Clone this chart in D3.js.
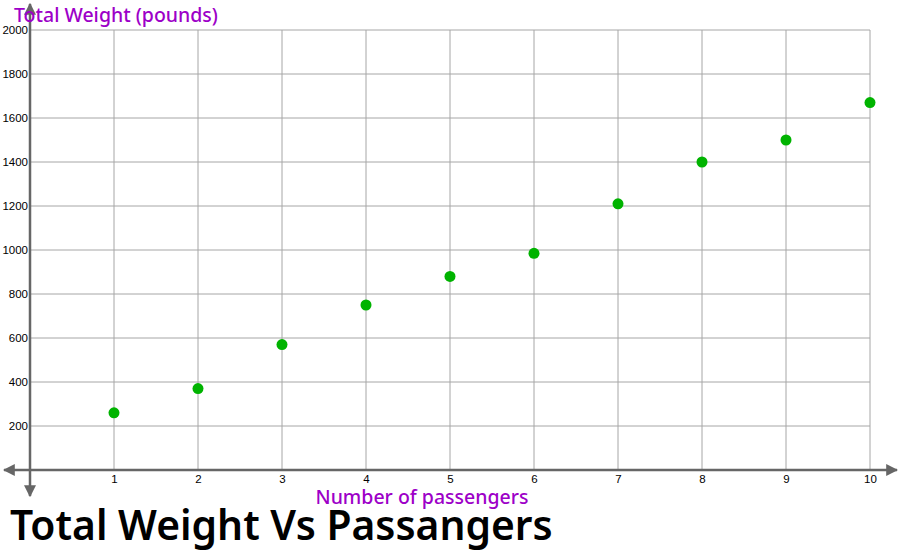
<!DOCTYPE html>
<html><head><meta charset="utf-8">
<script src="https://cdn.jsdelivr.net/npm/d3@7"></script>
<style>body{margin:0;background:#fff}svg{display:block}</style>
</head><body>
<svg id="c" width="900" height="555"></svg>
<script>
const passengers = [1,2,3,4,5,6,7,8,9,10];
const weights = [260,370,570,750,880,985,1210,1400,1500,1670];
const xTicks = [1,2,3,4,5,6,7,8,9,10];
const yTicks = [200,400,600,800,1000,1200,1400,1600,1800,2000];
const xTitle = "Number of passengers";
const yTitle = "Total Weight (pounds)";
const chartTitle = "Total Weight Vs Passangers";

const svg = d3.select("#c");
const x = d3.scaleLinear().domain([0,10]).range([30,870]);
const y = d3.scaleLinear().domain([0,2000]).range([470,30]);
const grid = "#a6a6a6", axisC = "#666";

// grid
svg.append("g").selectAll("line").data(xTicks).join("line")
  .attr("x1", d=>x(d)).attr("x2", d=>x(d)).attr("y1", y(2000)).attr("y2", y(0))
  .attr("stroke", grid).attr("stroke-width",1);
svg.append("g").selectAll("line").data(yTicks).join("line")
  .attr("x1", x(0)).attr("x2", x(10)).attr("y1", d=>y(d)).attr("y2", d=>y(d))
  .attr("stroke", grid).attr("stroke-width",1);

// axes with arrows
const defs = svg.append("defs");
defs.append("marker").attr("id","arr").attr("viewBox","0 0 10 10").attr("refX",9).attr("refY",5)
  .attr("markerWidth",12).attr("markerHeight",12).attr("orient","auto-start-reverse")
  .attr("markerUnits","userSpaceOnUse")
  .append("path").attr("d","M0,0 L10,5 L0,10 z").attr("fill",axisC);

svg.append("line").attr("x1",4).attr("x2",897).attr("y1",y(0)).attr("y2",y(0))
  .attr("stroke",axisC).attr("stroke-width",2.5)
  .attr("marker-start","url(#arr)").attr("marker-end","url(#arr)");
svg.append("line").attr("x1",x(0)).attr("x2",x(0)).attr("y1",4).attr("y2",496)
  .attr("stroke",axisC).attr("stroke-width",2.5)
  .attr("marker-start","url(#arr)").attr("marker-end","url(#arr)");

// tick labels via axis generators
const xAxis = d3.axisBottom(x).tickValues(xTicks).tickSize(0).tickPadding(5).tickFormat(d3.format("d"));
const gx = svg.append("g").attr("transform",`translate(0,${y(0)})`).call(xAxis);
gx.select(".domain").remove();
gx.selectAll("text").attr("font-family","Liberation Sans, Arial, sans-serif").attr("font-size",11.5).attr("fill","#000");

const yAxis = d3.axisLeft(y).tickValues(yTicks).tickSize(0).tickPadding(2).tickFormat(d3.format("d"));
const gy = svg.append("g").attr("transform",`translate(${x(0)},0)`).call(yAxis);
gy.select(".domain").remove();
gy.selectAll("text").attr("font-family","Liberation Sans, Arial, sans-serif").attr("font-size",11.5).attr("fill","#000");

// points
svg.append("g").selectAll("circle").data(passengers).join("circle")
  .attr("cx", d=>x(d)).attr("cy",(d,i)=>y(weights[i])).attr("r",5.5)
  .attr("fill","#00b300");

// titles
svg.append("text").attr("x",14).attr("y",22).text(yTitle)
  .attr("font-family","Noto Sans, sans-serif").attr("font-size",19.5).attr("font-weight",500).attr("fill","#9d00c8");
svg.append("text").attr("x",422).attr("y",504).attr("text-anchor","middle").text(xTitle)
  .attr("font-family","Noto Sans, sans-serif").attr("font-size",19.5).attr("font-weight",500).attr("fill","#9d00c8");
svg.append("text").attr("x",10).attr("y",540).text(chartTitle)
  .attr("font-family","Noto Sans, sans-serif").attr("font-size",40.8).attr("font-weight",600).attr("fill","#000");
</script>
</body></html>
